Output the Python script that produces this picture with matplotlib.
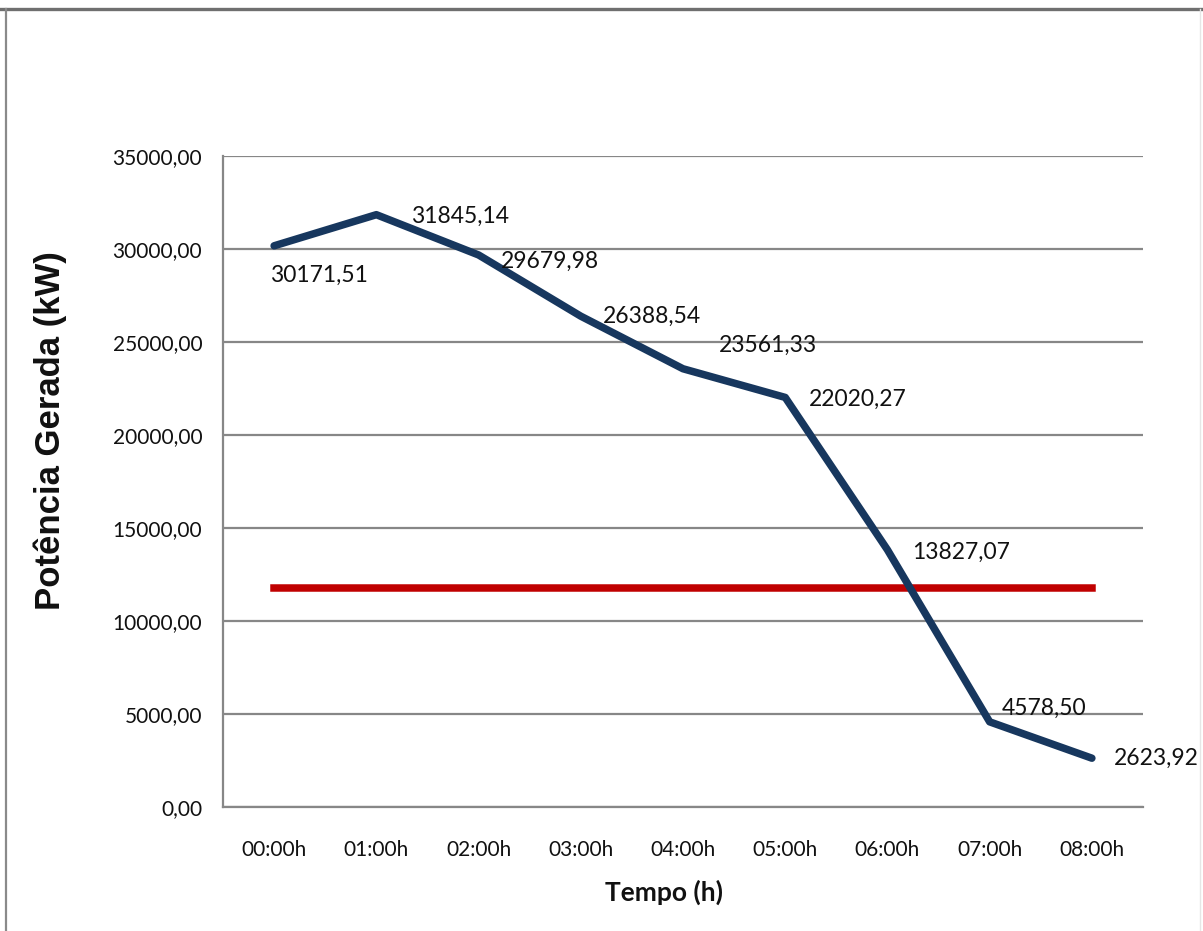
import matplotlib
matplotlib.use("Agg")
import matplotlib.pyplot as plt
from matplotlib.lines import Line2D

# Hourly generated power (kW) and the reference level
hours = ["00:00h", "01:00h", "02:00h", "03:00h", "04:00h",
         "05:00h", "06:00h", "07:00h", "08:00h"]
power_kw = [30171.51, 31845.14, 29679.98, 26388.54, 23561.33,
            22020.27, 13827.07, 4578.50, 2623.92]
reference_kw = [11800.0] * len(hours)
y_ticks = [0, 5000, 10000, 15000, 20000, 25000, 30000, 35000]

# label offsets in points (dx, dy) for each data label
label_offsets = [(-3, -21.5), (25, -1), (16, -4.5), (16, 0), (26, 16.5),
                 (17, -1.5), (18, -1.5), (8.5, 10), (16, 0)]


def br(v):
    return f"{v:.2f}".replace(".", ",")


W, H = 1203, 931
fig = plt.figure(figsize=(W / 100, H / 100), dpi=100)
fig.patch.set_facecolor("white")

ax = fig.add_axes([223 / W, 1 - 807 / H, (1143 - 223) / W, (807 - 156) / H])

grid_col = "#878787"
x = list(range(len(hours)))

ax.set_xlim(-0.5, len(hours) - 0.5)
ax.set_ylim(0, 35000)
ax.set_yticks(y_ticks)
ax.set_yticklabels([br(v) for v in y_ticks])
ax.set_xticks(x)
ax.set_xticklabels(hours)

ax.grid(axis="y", color=grid_col, linewidth=1.6)
ax.set_axisbelow(True)
for side in ("top", "right"):
    ax.spines[side].set_visible(False)
for side in ("left", "bottom"):
    ax.spines[side].set_color(grid_col)
    ax.spines[side].set_linewidth(1.6)

ax.tick_params(axis="both", length=0)
ax.tick_params(axis="y", pad=15)
ax.tick_params(axis="x", pad=24)
for lab in ax.get_xticklabels() + ax.get_yticklabels():
    lab.set_fontfamily("Lato")
    lab.set_fontsize(15)
    lab.set_color("#111111")

# reference level
ax.plot(x, reference_kw, color="#C00000", linewidth=5.4,
        solid_capstyle="projecting", zorder=3)
# generated power
ax.plot(x, power_kw, color="#17375E", linewidth=5.4,
        solid_joinstyle="round", solid_capstyle="round", zorder=4)

for xi, v, (dx, dy) in zip(x, power_kw, label_offsets):
    ax.annotate(br(v), (xi, v), xytext=(dx, dy), textcoords="offset points",
                ha="left", va="center", fontsize=16.5, fontfamily="Lato",
                color="#111111", zorder=5)

fig.text(50 / W, 1 - 431 / H, "Potência Gerada (kW)", rotation=90,
         ha="center", va="center", fontsize=25, fontweight="bold",
         fontfamily="Liberation Sans", color="#111111")
fig.text(664 / W, 1 - 892 / H, "Tempo (h)", ha="center", va="center",
         fontsize=19, fontweight="bold", fontfamily="Lato", color="#111111")

# outer frame
fig.add_artist(Line2D([0, 1], [1 - 9 / H, 1 - 9 / H], transform=fig.transFigure,
                      color="#6f6f6f", linewidth=2.4))
fig.add_artist(Line2D([6 / W, 6 / W], [0, 1 - 9 / H], transform=fig.transFigure,
                      color="#8a8a8a", linewidth=1.6))
fig.add_artist(Line2D([1200 / W, 1200 / W], [0, 1 - 9 / H], transform=fig.transFigure,
                      color="#e6e6e6", linewidth=1.0))

fig.savefig("out.png", dpi=100)
